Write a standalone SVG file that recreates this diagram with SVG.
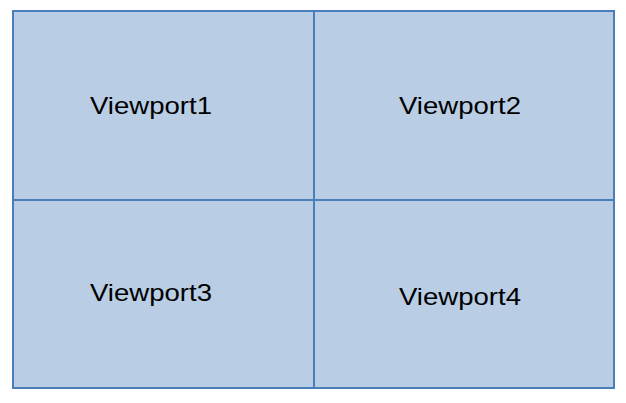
<svg xmlns="http://www.w3.org/2000/svg" width="626" height="403" viewBox="0 0 626 403">
<style>
.vp{fill:#B9CDE5;stroke:#4A7EBB;stroke-width:2}
.t{font-family:"Liberation Sans",Arial,sans-serif;font-size:24px;fill:#000;text-anchor:middle}
</style>
<rect width="626" height="403" fill="#fff"/>
<g id="viewport1"><rect class="vp" x="13" y="11" width="301" height="189"/><text class="t" x="151" y="114" textLength="122" lengthAdjust="spacingAndGlyphs">Viewport1</text></g>
<g id="viewport2"><rect class="vp" x="314" y="11" width="300" height="189"/><text class="t" x="460" y="114" textLength="122" lengthAdjust="spacingAndGlyphs">Viewport2</text></g>
<g id="viewport3"><rect class="vp" x="13" y="200" width="301" height="188"/><text class="t" x="151" y="301" textLength="122" lengthAdjust="spacingAndGlyphs">Viewport3</text></g>
<g id="viewport4"><rect class="vp" x="314" y="200" width="300" height="188"/><text class="t" x="460" y="305" textLength="122" lengthAdjust="spacingAndGlyphs">Viewport4</text></g>
<g id="connectors"></g>
</svg>
